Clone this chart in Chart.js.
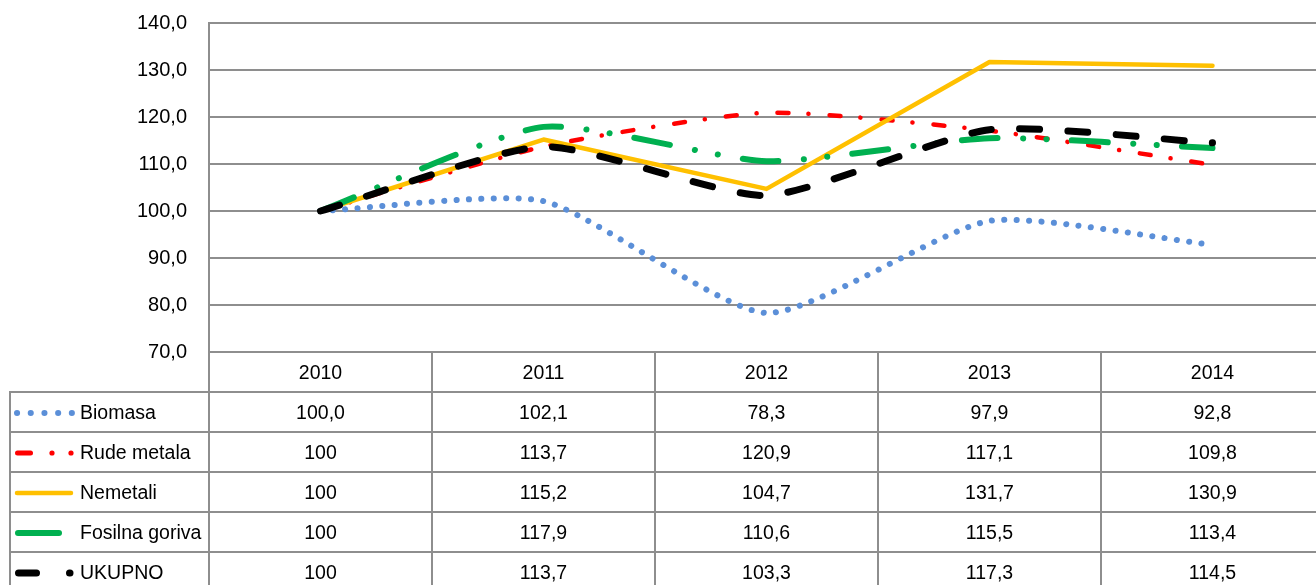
<!DOCTYPE html>
<html>
<head>
<meta charset="utf-8">
<title>Indeksi materijalnih tokova 2010-2014</title>
<script src="https://cdn.jsdelivr.net/npm/chart.js"></script>
<style>
    body {
        margin: 0;
        padding: 0;
        width: 1316px;
        height: 585px;
        overflow: hidden;
        background: #fff;
        position: relative;
        font-family: 'Liberation Sans', Arial, sans-serif;
    }

    #myChart {
        position: absolute;
        left: 0;
        top: 0;
    }

    #dataTable {
        position: absolute;
        left: 9px;
        top: 351px;
        border-collapse: collapse;
        table-layout: fixed;
        width: 1316px;
        font-size: 19.5px;
        color: #000;
    }

    #dataTable td {
        border: 2px solid #8e8e8e;
        height: 38px;
        padding: 0;
        text-align: center;
        white-space: nowrap;
    }

    #dataTable td.blank {
        border: none;
    }

    #dataTable td.name {
        text-align: left;
        padding-left: 2px;
    }

    #dataTable td.name svg {
        vertical-align: middle;
        margin-right: 3px;
    }

    #dataTable td.name span {
        vertical-align: middle;
    }
</style>
</head>
<body>

<canvas id="myChart" width="1324" height="380"></canvas>
<table id="dataTable"></table>

<script>
    // data (indeks, 2010 = 100)
    const years = ['2010', '2011', '2012', '2013', '2014'];
    const seriesNames = ['Biomasa', 'Rude metala', 'Nemetali', 'Fosilna goriva', 'UKUPNO'];

    const biomasa = [100.0, 102.1, 78.3, 97.9, 92.8];
    const rudeMetala = [100, 113.7, 120.9, 117.1, 109.8];
    const nemetali = [100, 115.2, 104.7, 131.7, 130.9];
    const fosilnaGoriva = [100, 117.9, 110.6, 115.5, 113.4];
    const ukupno = [100, 113.7, 103.3, 117.3, 114.5];

    const yMin = 70;
    const yMax = 140;
    const yStep = 10;

    const allValues = [biomasa, rudeMetala, nemetali, fosilnaGoriva, ukupno];

    // line styles, in the same order as seriesNames
    const styles = [
        { color: '#5b8fd8', width: 6,   dash: [0.1, 12.3],                      tension: 0.2 },
        { color: '#ff0000', width: 4.5, dash: [11, 20, 0.1, 21],                tension: 0.2 },
        { color: '#ffc000', width: 4.5, dash: [],                               tension: 0 },
        { color: '#00b050', width: 6,   dash: [36, 25.5, 0.1, 23.3, 0.1, 25.2], tension: 0.2 },
        { color: '#000000', width: 7,   dash: [20, 28.3],                       tension: 0.2 }
    ];

    // legend keys for the table (svg drawn, 64px wide)
    const keys = [
        '<line x1="4" y1="7" x2="59" y2="7" stroke="#5b8fd8" stroke-width="6" stroke-linecap="round" stroke-dasharray="0.1 13.6"/>',
        '<line x1="4.5" y1="7" x2="17.5" y2="7" stroke="#ff0000" stroke-width="5" stroke-linecap="round"/>' +
            '<circle cx="39" cy="7" r="2.6" fill="#ff0000"/><circle cx="58" cy="7" r="2.6" fill="#ff0000"/>',
        '<line x1="4" y1="7" x2="58" y2="7" stroke="#ffc000" stroke-width="4.5" stroke-linecap="round"/>',
        '<line x1="5" y1="7" x2="46" y2="7" stroke="#00b050" stroke-width="6" stroke-linecap="round"/>',
        '<line x1="5.5" y1="7" x2="23.5" y2="7" stroke="#000" stroke-width="7" stroke-linecap="round"/>' +
            '<line x1="56.5" y1="7" x2="57" y2="7" stroke="#000" stroke-width="7" stroke-linecap="round"/>'
    ];

    function fmt(v, keepDecimal) {
        if (!keepDecimal && Number.isInteger(v)) return String(v);
        return v.toFixed(1).replace('.', ',');
    }

    // ---- table under the plot ----
    const table = document.getElementById('dataTable');
    let html = '<colgroup><col style="width:199px">';
    years.forEach(() => { html += '<col style="width:223px">'; });
    html += '</colgroup>';
    html += '<tr><td class="blank"></td>' + years.map(y => '<td>' + y + '</td>').join('') + '</tr>';
    seriesNames.forEach((name, i) => {
        html += '<tr><td class="name"><svg width="64" height="14">' + keys[i] + '</svg><span>' + name + '</span></td>';
        allValues[i].forEach(v => {
            // Biomasa row keeps one decimal everywhere (100,0)
            html += '<td>' + fmt(v, i === 0) + '</td>';
        });
        html += '</tr>';
    });
    table.innerHTML = html;

    // ---- chart ----
    const datasets = seriesNames.map((name, i) => ({
        label: name,
        data: allValues[i],
        borderColor: styles[i].color,
        backgroundColor: styles[i].color,
        borderWidth: styles[i].width,
        borderDash: styles[i].dash,
        borderCapStyle: 'round',
        borderJoinStyle: 'round',
        tension: styles[i].tension,
        pointRadius: 0,
        fill: false,
        order: seriesNames.length - i
    }));

    new Chart(document.getElementById('myChart'), {
        type: 'line',
        data: { labels: years, datasets: datasets },
        options: {
            responsive: false,
            animation: false,
            devicePixelRatio: 1,
            layout: { padding: { left: 0, right: 0, top: 23, bottom: 28 } },
            plugins: {
                legend: { display: false },
                tooltip: { enabled: false }
            },
            scales: {
                x: {
                    display: false,
                    offset: true
                },
                y: {
                    min: yMin,
                    max: yMax,
                    afterFit(scale) {
                        // fixed axis width; tick padding should not push the plot down
                        scale.width = 209;
                        scale.paddingTop = 0;
                        scale.paddingBottom = 0;
                    },
                    grid: {
                        color: '#8e8e8e',
                        lineWidth: 2,
                        drawTicks: false
                    },
                    border: { display: true, color: '#8e8e8e', width: 2 },
                    ticks: {
                        stepSize: yStep,
                        padding: 22,
                        color: '#000',
                        font: { family: "'Liberation Sans', Arial, sans-serif", size: 20 },
                        callback: v => v.toFixed(1).replace('.', ',')
                    }
                }
            }
        }
    });
</script>
</body>
</html>
